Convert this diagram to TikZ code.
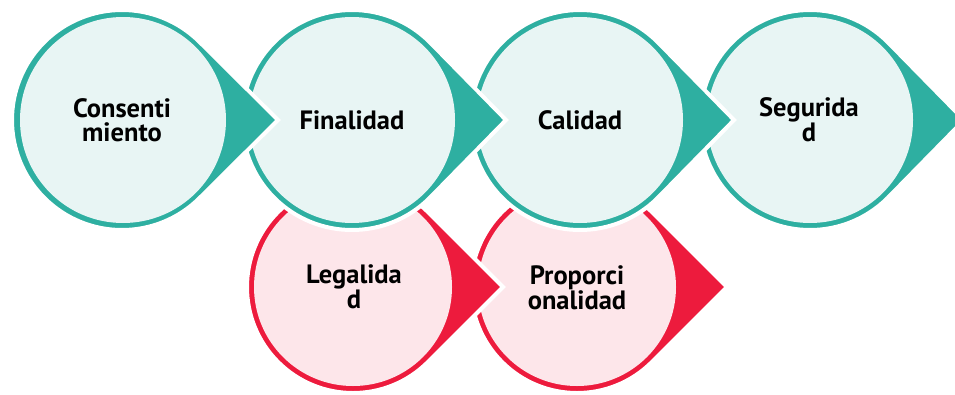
\documentclass[tikz,border=0pt]{standalone}
\usepackage{fontspec}
\setmainfont{PT Sans}

\definecolor{verdeborde}{HTML}{2EAFA1}
\definecolor{verdefondo}{HTML}{E8F5F4}
\definecolor{rojoborde}{HTML}{ED1B3D}
\definecolor{rojofondo}{HTML}{FDE6EA}

\tikzset{
  gotaverde/.style={fill=verdeborde, draw=white, line width=4pt, line join=miter},
  gotaroja/.style={fill=rojoborde, draw=white, line width=4pt, line join=miter},
  texto/.style={font=\bfseries\fontsize{26.5}{24}\selectfont, align=center, text=black}
}

\begin{document}
\begin{tikzpicture}[x=1pt, y=-1pt]
        \useasboundingbox (0,0) rectangle (955,394);

        % Proporcionalidad (red row, below; drawn right to left)
        \draw[gotaroja] (577,287) ++(45:106) arc[start angle=45, end angle=315, radius=106] -- (727,287) -- cycle;
        \fill[rojofondo] (577,287) circle[radius=99];
        \node[texto] (proporcionalidad) at (577,288) {Proporci\\onalidad};

        % Legalidad
        \draw[gotaroja] (353,287) ++(45:106) arc[start angle=45, end angle=315, radius=106] -- (503,287) -- cycle;
        \fill[rojofondo] (353,287) circle[radius=99];
        \node[texto] (legalidad) at (354,287) {Legalida\\d};

        % Seguridad (teal row, on top; drawn right to left)
        \draw[gotaverde] (810,120) ++(45:110) arc[start angle=45, end angle=315, radius=110] -- (964,120) -- cycle;
        \fill[verdefondo] (810,120) circle[radius=103];
        \node[texto] (seguridad) at (809,120) {Segurida\\d};

        % Calidad
        \draw[gotaverde] (580,120) ++(45:110) arc[start angle=45, end angle=315, radius=110] -- (734,120) -- cycle;
        \fill[verdefondo] (580,120) circle[radius=103];
        \node[texto] (calidad) at (580,120) {Calidad};

        % Finalidad
        \draw[gotaverde] (352,120) ++(45:110) arc[start angle=45, end angle=315, radius=110] -- (506,120) -- cycle;
        \fill[verdefondo] (352,120) circle[radius=103];
        \node[texto] (finalidad) at (352,120) {Finalidad};

        % Consentimiento
        \draw[gotaverde] (122,120) ++(45:110) arc[start angle=45, end angle=315, radius=110] -- (278,120) -- cycle;
        \fill[verdefondo] (123,120) circle[radius=103];
        \node[texto] (consentimiento) at (122,120) {Consenti\\miento};
    \end{tikzpicture}
\end{document}
